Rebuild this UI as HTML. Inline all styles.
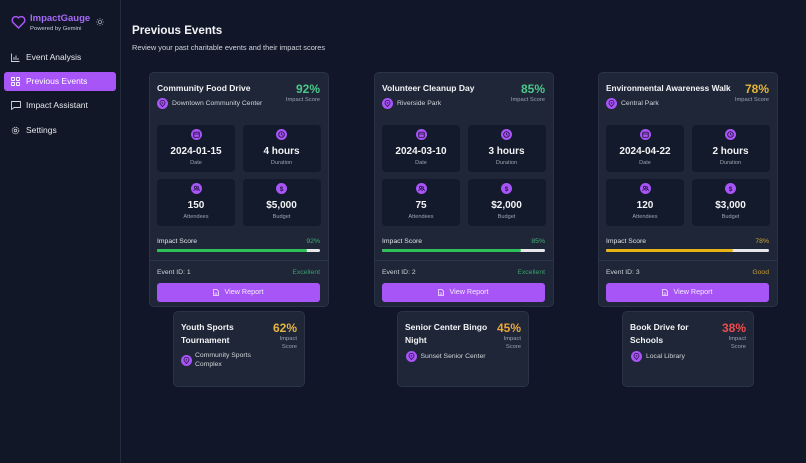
<!DOCTYPE html>
<html><head><meta charset="utf-8">
<style>
*{margin:0;padding:0;box-sizing:border-box}
html,body{width:806px;height:463px;overflow:hidden;background:#111729;font-family:"Liberation Sans",Arial,sans-serif;color:#e5e7eb}
.a{position:absolute;white-space:nowrap}
#side{position:absolute;left:0;top:0;width:121px;height:463px;background:#111727;border-right:1px solid #232c3d}
.nav{position:absolute;left:4px;width:112px;height:19px;border-radius:3px}
.nav .t{position:absolute;left:22px;top:0;line-height:19px;font-size:8.5px;color:#e5e7eb}
.nav svg{position:absolute;left:7px;top:5px}
.card{position:absolute;top:72px;width:180px;height:235px;background:#1e2637;border:1px solid #2a3446;border-radius:5px}
.ttl{position:absolute;left:7px;font-weight:bold;font-size:8.5px;color:#f3f4f6;white-space:nowrap}
.sc{position:absolute;right:8px;font-weight:bold;font-size:12px;text-align:right;white-space:nowrap}
.scl{position:absolute;right:8px;font-size:5.8px;color:#9ca3af;text-align:right;white-space:nowrap}
.loc{position:absolute;width:11px;height:11px;border-radius:50%;background:#a855f7}
.loc svg{position:absolute;left:2px;top:2px}
.lt{position:absolute;font-size:6.8px;color:#d1d5db;white-space:nowrap}
.box{position:absolute;width:78px;height:47px;background:#131a2b;border-radius:4px}
.box .ic{position:absolute;left:33.5px;top:4.5px;width:11px;height:11px;border-radius:50%;background:#a855f7}
.box .ic svg{position:absolute;left:2px;top:2px}
.box .v{position:absolute;left:0;width:78px;top:21px;line-height:12px;text-align:center;font-weight:bold;font-size:10px;color:#f3f4f6}
.box .l{position:absolute;left:0;width:78px;top:35px;line-height:7px;text-align:center;font-size:5.6px;color:#9ca3af}
.isl{position:absolute;left:7px;top:164px;line-height:10px;font-size:6.8px;color:#e5e7eb}
.isp{position:absolute;right:8px;top:164px;line-height:10px;font-size:6.8px}
.bar{position:absolute;left:7px;top:175.5px;width:163px;height:3.6px;border-radius:2px;background:#e5e7eb;overflow:hidden}
.bar div{height:100%;border-radius:2px}
.div{position:absolute;left:0;top:186.5px;width:178px;height:1px;background:#2c3648}
.eid{position:absolute;left:7px;top:195px;line-height:10px;font-size:6.8px;color:#d1d5db}
.rat{position:absolute;right:8px;top:195px;line-height:10px;font-size:6.8px}
.btn{position:absolute;left:7px;top:210px;width:163px;height:18.5px;background:#a855f7;border-radius:3px;text-align:center;line-height:18.5px;font-size:7.2px;color:#f5edff}
.btn svg{vertical-align:-1.5px;margin-right:5px}
.sm{position:absolute;top:311px;width:132px;height:75.5px;background:#1e2637;border:1px solid #2a3446;border-radius:5px}
.sm .ttl{left:7px;top:9px;line-height:12.6px}
.sm .sc{right:7px;top:10px;line-height:12px}
.sm .scl{right:7px;top:24px;line-height:7.6px}
</style></head><body>

<div id="side">
  <svg class="a" style="left:11px;top:15px" width="15" height="14" viewBox="0 0 24 22"><path d="M12 20.5 L3.2 11.8 A5.2 5.2 0 0 1 12 4.4 A5.2 5.2 0 0 1 20.8 11.8 Z" fill="none" stroke="#a855f7" stroke-width="2.4" stroke-linejoin="round"/></svg>
  <div class="a" style="left:30px;top:12px;line-height:13px;font-size:9.5px;font-weight:bold;color:#a66bf6">ImpactGauge</div>
  <div class="a" style="left:30px;top:25px;line-height:8px;font-size:5.9px;color:#c9ced6">Powered by Gemini</div>
  <svg class="a" style="left:95.5px;top:17.5px" width="8" height="8" viewBox="0 0 8 8"><circle cx="4" cy="4" r="1.6" fill="none" stroke="#9ca3af" stroke-width="0.8"/><g stroke="#9ca3af" stroke-width="0.7"><line x1="4" y1="0" x2="4" y2="1.3"/><line x1="4" y1="6.7" x2="4" y2="8"/><line x1="0" y1="4" x2="1.3" y2="4"/><line x1="6.7" y1="4" x2="8" y2="4"/><line x1="1.2" y1="1.2" x2="2" y2="2"/><line x1="6" y1="6" x2="6.8" y2="6.8"/><line x1="1.2" y1="6.8" x2="2" y2="6"/><line x1="6" y1="2" x2="6.8" y2="1.2"/></g></svg>

  <div class="nav" style="top:47.5px"><svg width="9" height="9" viewBox="0 0 9 9"><g stroke="#d1d5db" stroke-width="0.9" fill="none"><path d="M0.5 0.5 V8.5 H8.5"/><line x1="3" y1="7" x2="3" y2="4"/><line x1="5" y1="7" x2="5" y2="2.5"/><line x1="7" y1="7" x2="7" y2="5"/></g></svg><div class="t">Event Analysis</div></div>
  <div class="nav" style="top:72px;background:#a855f7"><svg width="9" height="9" viewBox="0 0 9 9"><g stroke="#fff" stroke-width="0.9" fill="none"><rect x="0.5" y="0.5" width="3" height="3" rx="0.5"/><rect x="5.5" y="0.5" width="3" height="3" rx="0.5"/><rect x="0.5" y="5.5" width="3" height="3" rx="0.5"/><rect x="5.5" y="5.5" width="3" height="3" rx="0.5"/></g></svg><div class="t" style="color:#fff">Previous Events</div></div>
  <div class="nav" style="top:96px"><svg width="10" height="9" viewBox="0 0 10 9"><path d="M0.5 0.5 H9.5 V6.5 H3 L0.5 8.5 Z" stroke="#d1d5db" stroke-width="0.9" fill="none" stroke-linejoin="round"/></svg><div class="t">Impact Assistant</div></div>
  <div class="nav" style="top:121px"><svg width="9" height="9" viewBox="0 0 9 9"><circle cx="4.5" cy="4.5" r="3.3" fill="none" stroke="#d1d5db" stroke-width="0.9" stroke-dasharray="1.3 0.7"/><circle cx="4.5" cy="4.5" r="1.3" fill="none" stroke="#d1d5db" stroke-width="0.8"/></svg><div class="t">Settings</div></div>
</div>

<div class="a" style="left:132px;top:24px;line-height:14px;font-size:11.6px;font-weight:bold;color:#f3f4f6">Previous Events</div>
<div class="a" style="left:132px;top:43px;line-height:9px;font-size:7.4px;color:#d1d5db">Review your past charitable events and their impact scores</div>

<!-- Card 1 -->
<div class="card" style="left:149px">
  <div class="ttl" style="top:9px;line-height:12px">Community Food Drive</div>
  <div class="sc" style="top:10px;line-height:13px;color:#4bc88a">92%</div>
  <div class="scl" style="top:23px;line-height:8px">Impact Score</div>
  <div class="loc" style="left:7px;top:24.5px"><svg width="7" height="7" viewBox="0 0 7 7"><path d="M3.5 6.5 C1.5 4.5 1 3.7 1 2.8 A2.5 2.5 0 0 1 6 2.8 C6 3.7 5.5 4.5 3.5 6.5Z" fill="none" stroke="#3b1a5e" stroke-width="0.9"/><circle cx="3.5" cy="2.9" r="0.8" fill="#3b1a5e"/></svg></div>
  <div class="lt" style="left:22px;top:25.5px;line-height:9px">Downtown Community Center</div>
  <div class="box" style="left:7px;top:51.5px"><div class="ic"><svg width="7" height="7" viewBox="0 0 6 6"><rect x="0.6" y="1" width="4.8" height="4.4" rx="0.6" fill="none" stroke="#2a1747" stroke-width="0.8"/><line x1="0.6" y1="2.6" x2="5.4" y2="2.6" stroke="#2a1747" stroke-width="0.7"/></svg></div><div class="v">2024-01-15</div><div class="l">Date</div></div>
  <div class="box" style="left:92.5px;top:51.5px"><div class="ic"><svg width="7" height="7" viewBox="0 0 6 6"><circle cx="3" cy="3" r="2.4" fill="none" stroke="#2a1747" stroke-width="0.8"/><path d="M3 1.6 V3 L4 3.7" fill="none" stroke="#2a1747" stroke-width="0.7"/></svg></div><div class="v">4 hours</div><div class="l">Duration</div></div>
  <div class="box" style="left:7px;top:105.5px"><div class="ic"><svg width="7" height="7" viewBox="0 0 6 6"><circle cx="2.2" cy="2" r="1" fill="none" stroke="#2a1747" stroke-width="0.7"/><circle cx="4.1" cy="2.2" r="0.8" fill="none" stroke="#2a1747" stroke-width="0.6"/><path d="M0.5 5 C0.8 3.6 3.6 3.6 3.9 5 M4 3.6 C5 3.6 5.5 4.2 5.6 5" fill="none" stroke="#2a1747" stroke-width="0.7"/></svg></div><div class="v">150</div><div class="l">Attendees</div></div>
  <div class="box" style="left:92.5px;top:105.5px"><div class="ic"><svg width="7" height="7" viewBox="0 0 6 6"><text x="3" y="5.2" font-size="5.6" font-weight="bold" text-anchor="middle" fill="#2a1747" font-family="Liberation Sans">$</text></svg></div><div class="v">$5,000</div><div class="l">Budget</div></div>
  <div class="isl">Impact Score</div><div class="isp" style="color:#45b07a">92%</div>
  <div class="bar"><div style="width:92%;background:#2fbf59"></div></div>
  <div class="div"></div>
  <div class="eid">Event ID: 1</div><div class="rat" style="color:#3f9e6c">Excellent</div>
  <div class="btn"><svg width="6" height="7" viewBox="0 0 6 7"><path d="M0.5 0.5 H3.8 L5.5 2.2 V6.5 H0.5 Z" fill="none" stroke="#f3e8ff" stroke-width="0.8"/><line x1="1.6" y1="4" x2="4.4" y2="4" stroke="#f3e8ff" stroke-width="0.6"/><line x1="1.6" y1="5.2" x2="4.4" y2="5.2" stroke="#f3e8ff" stroke-width="0.6"/></svg>View Report</div>
</div>

<!-- Card 2 -->
<div class="card" style="left:374px">
  <div class="ttl" style="top:9px;line-height:12px">Volunteer Cleanup Day</div>
  <div class="sc" style="top:10px;line-height:13px;color:#4bc88a">85%</div>
  <div class="scl" style="top:23px;line-height:8px">Impact Score</div>
  <div class="loc" style="left:7px;top:24.5px"><svg width="7" height="7" viewBox="0 0 7 7"><path d="M3.5 6.5 C1.5 4.5 1 3.7 1 2.8 A2.5 2.5 0 0 1 6 2.8 C6 3.7 5.5 4.5 3.5 6.5Z" fill="none" stroke="#3b1a5e" stroke-width="0.9"/><circle cx="3.5" cy="2.9" r="0.8" fill="#3b1a5e"/></svg></div>
  <div class="lt" style="left:22px;top:25.5px;line-height:9px">Riverside Park</div>
  <div class="box" style="left:7px;top:51.5px"><div class="ic"><svg width="7" height="7" viewBox="0 0 6 6"><rect x="0.6" y="1" width="4.8" height="4.4" rx="0.6" fill="none" stroke="#2a1747" stroke-width="0.8"/><line x1="0.6" y1="2.6" x2="5.4" y2="2.6" stroke="#2a1747" stroke-width="0.7"/></svg></div><div class="v">2024-03-10</div><div class="l">Date</div></div>
  <div class="box" style="left:92.5px;top:51.5px"><div class="ic"><svg width="7" height="7" viewBox="0 0 6 6"><circle cx="3" cy="3" r="2.4" fill="none" stroke="#2a1747" stroke-width="0.8"/><path d="M3 1.6 V3 L4 3.7" fill="none" stroke="#2a1747" stroke-width="0.7"/></svg></div><div class="v">3 hours</div><div class="l">Duration</div></div>
  <div class="box" style="left:7px;top:105.5px"><div class="ic"><svg width="7" height="7" viewBox="0 0 6 6"><circle cx="2.2" cy="2" r="1" fill="none" stroke="#2a1747" stroke-width="0.7"/><circle cx="4.1" cy="2.2" r="0.8" fill="none" stroke="#2a1747" stroke-width="0.6"/><path d="M0.5 5 C0.8 3.6 3.6 3.6 3.9 5 M4 3.6 C5 3.6 5.5 4.2 5.6 5" fill="none" stroke="#2a1747" stroke-width="0.7"/></svg></div><div class="v">75</div><div class="l">Attendees</div></div>
  <div class="box" style="left:92.5px;top:105.5px"><div class="ic"><svg width="7" height="7" viewBox="0 0 6 6"><text x="3" y="5.2" font-size="5.6" font-weight="bold" text-anchor="middle" fill="#2a1747" font-family="Liberation Sans">$</text></svg></div><div class="v">$2,000</div><div class="l">Budget</div></div>
  <div class="isl">Impact Score</div><div class="isp" style="color:#45b07a">85%</div>
  <div class="bar"><div style="width:85%;background:#2fbf59"></div></div>
  <div class="div"></div>
  <div class="eid">Event ID: 2</div><div class="rat" style="color:#3f9e6c">Excellent</div>
  <div class="btn"><svg width="6" height="7" viewBox="0 0 6 7"><path d="M0.5 0.5 H3.8 L5.5 2.2 V6.5 H0.5 Z" fill="none" stroke="#f3e8ff" stroke-width="0.8"/><line x1="1.6" y1="4" x2="4.4" y2="4" stroke="#f3e8ff" stroke-width="0.6"/><line x1="1.6" y1="5.2" x2="4.4" y2="5.2" stroke="#f3e8ff" stroke-width="0.6"/></svg>View Report</div>
</div>

<!-- Card 3 -->
<div class="card" style="left:598px">
  <div class="ttl" style="top:9px;line-height:12px;font-size:8.3px">Environmental Awareness Walk</div>
  <div class="sc" style="top:10px;line-height:13px;color:#e6b535">78%</div>
  <div class="scl" style="top:23px;line-height:8px">Impact Score</div>
  <div class="loc" style="left:7px;top:24.5px"><svg width="7" height="7" viewBox="0 0 7 7"><path d="M3.5 6.5 C1.5 4.5 1 3.7 1 2.8 A2.5 2.5 0 0 1 6 2.8 C6 3.7 5.5 4.5 3.5 6.5Z" fill="none" stroke="#3b1a5e" stroke-width="0.9"/><circle cx="3.5" cy="2.9" r="0.8" fill="#3b1a5e"/></svg></div>
  <div class="lt" style="left:22px;top:25.5px;line-height:9px">Central Park</div>
  <div class="box" style="left:7px;top:51.5px"><div class="ic"><svg width="7" height="7" viewBox="0 0 6 6"><rect x="0.6" y="1" width="4.8" height="4.4" rx="0.6" fill="none" stroke="#2a1747" stroke-width="0.8"/><line x1="0.6" y1="2.6" x2="5.4" y2="2.6" stroke="#2a1747" stroke-width="0.7"/></svg></div><div class="v">2024-04-22</div><div class="l">Date</div></div>
  <div class="box" style="left:92.5px;top:51.5px"><div class="ic"><svg width="7" height="7" viewBox="0 0 6 6"><circle cx="3" cy="3" r="2.4" fill="none" stroke="#2a1747" stroke-width="0.8"/><path d="M3 1.6 V3 L4 3.7" fill="none" stroke="#2a1747" stroke-width="0.7"/></svg></div><div class="v">2 hours</div><div class="l">Duration</div></div>
  <div class="box" style="left:7px;top:105.5px"><div class="ic"><svg width="7" height="7" viewBox="0 0 6 6"><circle cx="2.2" cy="2" r="1" fill="none" stroke="#2a1747" stroke-width="0.7"/><circle cx="4.1" cy="2.2" r="0.8" fill="none" stroke="#2a1747" stroke-width="0.6"/><path d="M0.5 5 C0.8 3.6 3.6 3.6 3.9 5 M4 3.6 C5 3.6 5.5 4.2 5.6 5" fill="none" stroke="#2a1747" stroke-width="0.7"/></svg></div><div class="v">120</div><div class="l">Attendees</div></div>
  <div class="box" style="left:92.5px;top:105.5px"><div class="ic"><svg width="7" height="7" viewBox="0 0 6 6"><text x="3" y="5.2" font-size="5.6" font-weight="bold" text-anchor="middle" fill="#2a1747" font-family="Liberation Sans">$</text></svg></div><div class="v">$3,000</div><div class="l">Budget</div></div>
  <div class="isl">Impact Score</div><div class="isp" style="color:#d1a63a">78%</div>
  <div class="bar"><div style="width:78%;background:#e7b416"></div></div>
  <div class="div"></div>
  <div class="eid">Event ID: 3</div><div class="rat" style="color:#c99d36">Good</div>
  <div class="btn"><svg width="6" height="7" viewBox="0 0 6 7"><path d="M0.5 0.5 H3.8 L5.5 2.2 V6.5 H0.5 Z" fill="none" stroke="#f3e8ff" stroke-width="0.8"/><line x1="1.6" y1="4" x2="4.4" y2="4" stroke="#f3e8ff" stroke-width="0.6"/><line x1="1.6" y1="5.2" x2="4.4" y2="5.2" stroke="#f3e8ff" stroke-width="0.6"/></svg>View Report</div>
</div>

<!-- Small cards -->
<div class="sm" style="left:173px">
  <div class="ttl">Youth Sports<br>Tournament</div>
  <div class="sc" style="color:#e6b540">62%</div>
  <div class="scl">Impact<br>Score</div>
  <div class="loc" style="left:7px;top:42.5px"><svg width="7" height="7" viewBox="0 0 7 7"><path d="M3.5 6.5 C1.5 4.5 1 3.7 1 2.8 A2.5 2.5 0 0 1 6 2.8 C6 3.7 5.5 4.5 3.5 6.5Z" fill="none" stroke="#3b1a5e" stroke-width="0.9"/><circle cx="3.5" cy="2.9" r="0.8" fill="#3b1a5e"/></svg></div>
  <div class="lt" style="left:21px;top:38.5px;line-height:9px">Community Sports<br>Complex</div>
</div>
<div class="sm" style="left:397px">
  <div class="ttl">Senior Center Bingo<br>Night</div>
  <div class="sc" style="color:#eba83a">45%</div>
  <div class="scl">Impact<br>Score</div>
  <div class="loc" style="left:7.5px;top:38.5px"><svg width="7" height="7" viewBox="0 0 7 7"><path d="M3.5 6.5 C1.5 4.5 1 3.7 1 2.8 A2.5 2.5 0 0 1 6 2.8 C6 3.7 5.5 4.5 3.5 6.5Z" fill="none" stroke="#3b1a5e" stroke-width="0.9"/><circle cx="3.5" cy="2.9" r="0.8" fill="#3b1a5e"/></svg></div>
  <div class="lt" style="left:22.5px;top:39.5px;line-height:9px">Sunset Senior Center</div>
</div>
<div class="sm" style="left:622px">
  <div class="ttl">Book Drive for<br>Schools</div>
  <div class="sc" style="color:#ef4d4d">38%</div>
  <div class="scl">Impact<br>Score</div>
  <div class="loc" style="left:8px;top:38.5px"><svg width="7" height="7" viewBox="0 0 7 7"><path d="M3.5 6.5 C1.5 4.5 1 3.7 1 2.8 A2.5 2.5 0 0 1 6 2.8 C6 3.7 5.5 4.5 3.5 6.5Z" fill="none" stroke="#3b1a5e" stroke-width="0.9"/><circle cx="3.5" cy="2.9" r="0.8" fill="#3b1a5e"/></svg></div>
  <div class="lt" style="left:23px;top:39.5px;line-height:9px">Local Library</div>
</div>

</body></html>
